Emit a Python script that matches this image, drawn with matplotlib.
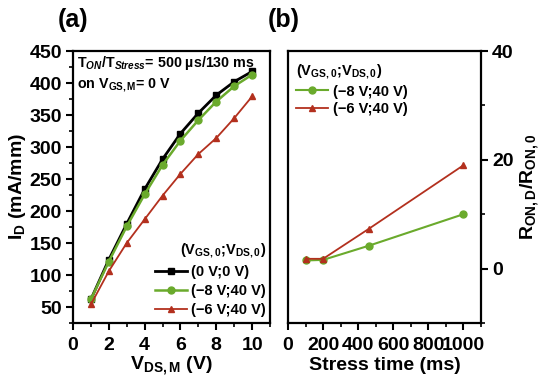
import matplotlib
matplotlib.use("Agg")
import matplotlib.pyplot as plt
from matplotlib.ticker import MultipleLocator

plt.rcParams['font.family'] = ['Liberation Sans', 'DejaVu Sans']
plt.rcParams['font.weight'] = 'bold'
plt.rcParams['axes.labelweight'] = 'bold'
plt.rcParams['mathtext.fontset'] = 'custom'
plt.rcParams['mathtext.rm'] = 'Liberation Sans:bold'
plt.rcParams['mathtext.bf'] = 'Liberation Sans:bold'
plt.rcParams['mathtext.it'] = 'Liberation Sans:bold:italic'
plt.rcParams['mathtext.sf'] = 'Liberation Sans:bold'

# ---- data panel (a)
vds = [1, 2, 3, 4, 5, 6, 7, 8, 9, 10]
id_ref = [62, 124, 180, 234, 281, 321, 353, 381, 402, 418]
id_m8 = [62, 121, 176, 226, 272, 310, 342, 371, 395, 413]
id_m6 = [54, 106, 150, 187, 224, 258, 289, 314, 345, 379]
labels_a = ["(0 V;0 V)", "(\u22128 V;40 V)", "(\u22126 V;40 V)"]

# ---- data panel (b)
t_stress = [100, 200, 460, 1000]
r_m8 = [1.5, 1.6, 4.2, 10.0]
r_m6 = [1.8, 1.8, 7.3, 19.0]
labels_b = ["(\u22128 V;40 V)", "(\u22126 V;40 V)"]

black = '#000000'
green = '#6aaa2c'
red = '#b3301e'

fig = plt.figure(figsize=(5.5, 3.84), dpi=100)
ax1 = fig.add_axes([73/550, 1-323/384, (270-73)/550, (323-51)/384])
ax2 = fig.add_axes([288/550, 1-323/384, (481-288)/550, (323-51)/384])

tickfs = 14
for ax in (ax1, ax2):
    for s in ax.spines.values():
        s.set_linewidth(1.6)
    ax.tick_params(which='major', direction='out', length=5, width=1.5, labelsize=tickfs)
    ax.tick_params(which='minor', direction='out', length=3, width=1.2)
    ax.tick_params(axis='x', which='major', pad=5)
    ax.tick_params(axis='y', which='major', pad=3)

# panel (a)
ax1.plot(vds, id_ref, '-s', color=black, lw=2.0, ms=4, label=labels_a[0])
ax1.plot(vds, id_m8, '-o', color=green, lw=1.8, ms=5, label=labels_a[1])
ax1.plot(vds, id_m6, '-^', color=red, lw=1.3, ms=5, label=labels_a[2])
ax1.xaxis.set_major_locator(MultipleLocator(2))
ax1.xaxis.set_minor_locator(MultipleLocator(1))
ax1.yaxis.set_major_locator(MultipleLocator(50))
ax1.yaxis.set_minor_locator(MultipleLocator(25))
ax1.set_xlim(0, 11)
ax1.set_ylim(25, 450)
ax1.set_xlabel(r"$\mathrm{V_{DS,M}}$ (V)", fontsize=14, labelpad=0)
ax1.set_ylabel(r"$\mathrm{I_D}$ (mA/mm)", fontsize=14, labelpad=1)
ax1.text(0.02, 0.955, r"$\mathrm{T}_{\mathit{ON}}\mathrm{/T}_{\mathit{Stress}}$= 500 µs/130 ms",
         transform=ax1.transAxes, fontsize=10.3, va='center', ha='left')
ax1.text(0.02, 0.875, r"on $\mathrm{V_{GS,M}}$= 0 V",
         transform=ax1.transAxes, fontsize=10.3, va='center', ha='left')
leg1 = ax1.legend(loc='lower right', bbox_to_anchor=(1.03, -0.015), frameon=False,
                  title=r"($\mathrm{V_{GS,0}}$;$\mathrm{V_{DS,0}}$)",
                  fontsize=10.5, title_fontsize=10.5, handlelength=2.2,
                  handletextpad=0.25, labelspacing=0.35, borderpad=0.2)
leg1._legend_box.align = 'right'
for t in leg1.get_texts():
    t.set_fontweight('bold')
leg1.get_title().set_fontweight('bold')

# panel (b)
ax2.plot(t_stress, r_m8, '-o', color=green, lw=1.5, ms=5, label=labels_b[0])
ax2.plot(t_stress, r_m6, '-^', color=red, lw=1.3, ms=5, label=labels_b[1])
ax2.set_xlim(0, 1100)
ax2.set_ylim(-10, 40)
ax2.xaxis.set_major_locator(MultipleLocator(200))
ax2.xaxis.set_minor_locator(MultipleLocator(100))
ax2.yaxis.set_major_locator(MultipleLocator(20))
ax2.yaxis.set_minor_locator(MultipleLocator(10))
ax2.yaxis.tick_right()
ax2.yaxis.set_label_position('right')
ax2.set_xlabel("Stress time (ms)", fontsize=14, labelpad=2)
ax2.set_ylabel(r"$\mathrm{R_{ON,D}/R_{ON,0}}$", fontsize=14, labelpad=3)
leg2 = ax2.legend(loc='upper left', bbox_to_anchor=(-0.01, 0.995), frameon=False,
                  title=r"($\mathrm{V_{GS,0}}$;$\mathrm{V_{DS,0}}$)",
                  fontsize=10.5, title_fontsize=10.5, handlelength=2.2,
                  handletextpad=0.3, labelspacing=0.25, borderpad=0.2)
leg2._legend_box.align = 'left'
for t in leg2.get_texts():
    t.set_fontweight('bold')
leg2.get_title().set_fontweight('bold')

fig.text(58/550, 1-20/384, "(a)", fontsize=18, fontweight='bold', va='center', ha='left')
fig.text(268/550, 1-20/384, "(b)", fontsize=18, fontweight='bold', va='center', ha='left')

fig.savefig("out.png", dpi=100)
